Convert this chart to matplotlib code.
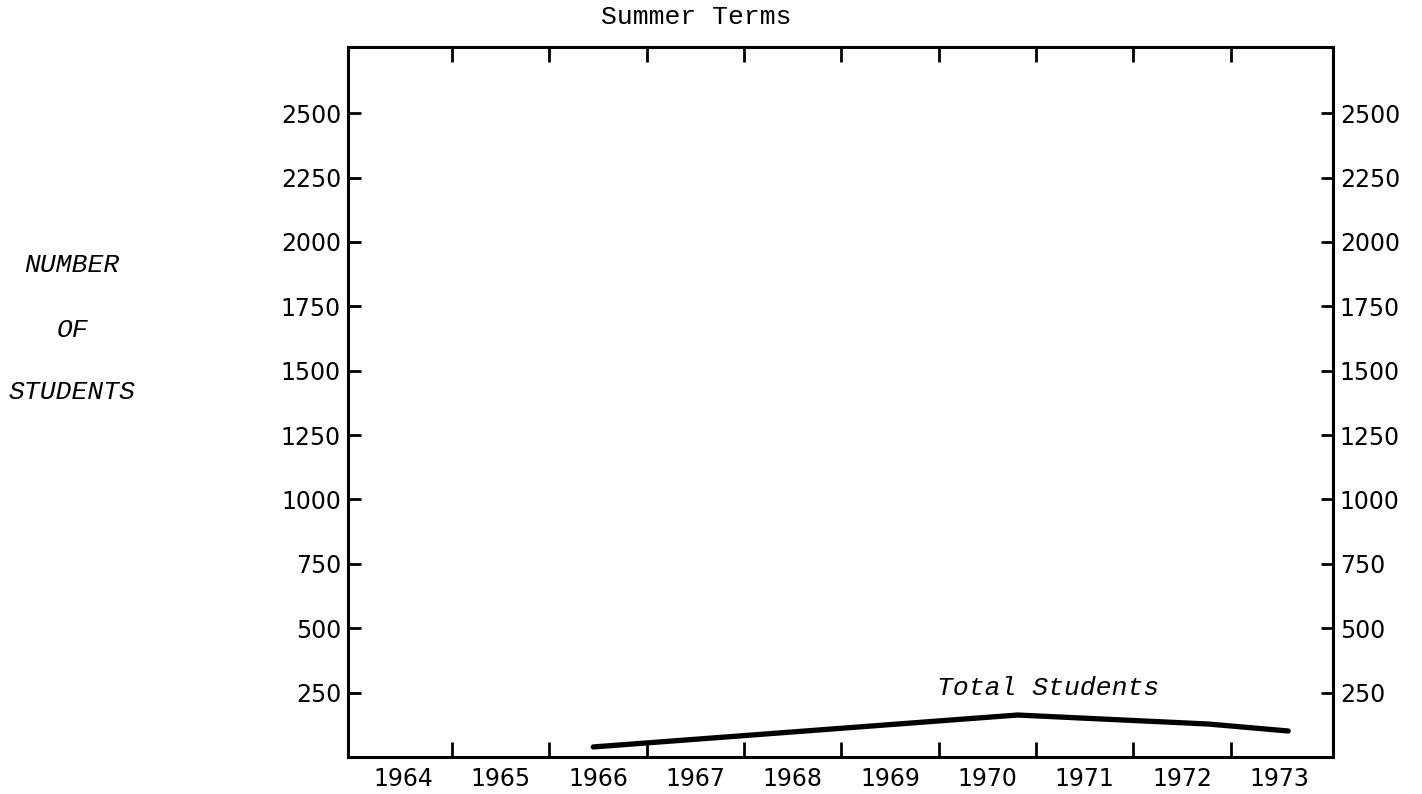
import matplotlib.pyplot as plt

# Summer terms - total students
years = [1965.95, 1969.78, 1970.31, 1972.27, 1973.09]
students = [39, 148, 163, 128, 101]

year_labels = ['1964', '1965', '1966', '1967', '1968', '1969', '1970', '1971', '1972', '1973']
year_pos = [1964, 1965, 1966, 1967, 1968, 1969, 1970, 1971, 1972, 1973]
bounds = [1964.5, 1965.5, 1966.5, 1967.5, 1968.5, 1969.5, 1970.5, 1971.5, 1972.5]
y_ticks = [250, 500, 750, 1000, 1250, 1500, 1750, 2000, 2250, 2500]

fig = plt.figure(figsize=(14.22, 7.94), dpi=100)
ax = fig.add_axes([0.2447, 0.0466, 0.6927, 0.8942])

ax.plot(years, students, c='black', lw=3.8, solid_capstyle='round', solid_joinstyle='round')
ax.text(1969.48, 268, 'Total Students', family='Liberation Mono', style='italic',
        fontsize=19, ha='left', va='center')

ax.set_xlim(1963.43, 1973.55)
ax.set_ylim(0, 2757)

# year boundaries get the tick marks, labels sit in the middle
ax.set_xticks(bounds)
ax.set_xticklabels([])
ax.set_xticks(year_pos, minor=True)
ax.set_xticklabels(year_labels, minor=True, family='DejaVu Sans', fontsize=17)
ax.tick_params(axis='x', which='major', direction='in', length=11, width=2, top=True)
ax.tick_params(axis='x', which='minor', length=0, pad=7)

ax.set_yticks(y_ticks)
ax.set_yticklabels([str(v) for v in y_ticks], family='DejaVu Sans', fontsize=17)
ax.tick_params(axis='y', direction='in', length=9, width=2, right=True,
               labelright=True, pad=5)

for s in ax.spines.values():
    s.set_linewidth(2.2)

fig.text(696 / 1422, 1 - 17 / 794, 'Summer Terms', family='Liberation Mono',
         fontsize=19, ha='center', va='center')
for txt, x, y in [('NUMBER', 72, 265), ('OF', 73, 330), ('STUDENTS', 72, 392)]:
    fig.text(x / 1422, 1 - y / 794, txt, family='Liberation Mono', style='italic',
             fontsize=19, ha='center', va='center')

fig.savefig('out.png', dpi=100)
